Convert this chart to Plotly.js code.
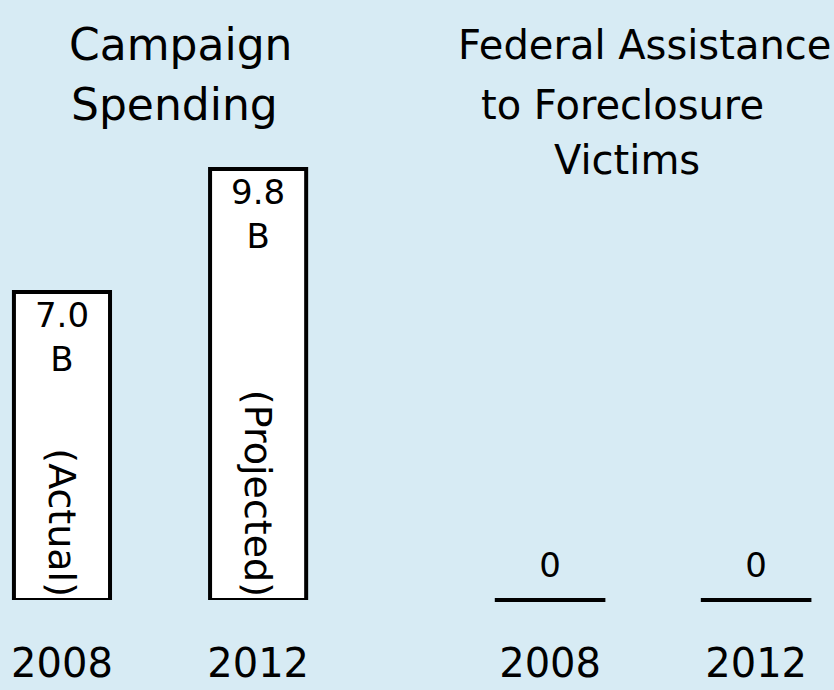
<!DOCTYPE html>
<html>
<head>
<meta charset="utf-8">
<script src="https://cdn.plot.ly/plotly-3.0.1.min.js"></script>
<style>html,body{margin:0;padding:0;background:#d7ebf4;}#chart{width:834px;height:690px;}</style>
</head>
<body>
<div id="chart"></div>
<script>
// ---- data ----
var years = ['2008', '2012'];
var campaignSpending = [7.0, 9.8];          // billions of dollars
var campaignValueLabels = ['7.0<br>B', '9.8<br>B'];
var campaignNotes = ['(Actual)', '(Projected)'];
var foreclosureAid = [0, 0];
var foreclosureLabels = ['0', '0'];
var campaignTitleLines = ['Campaign', 'Spending'];
var foreclosureTitleLines = ['Federal Assistance', 'to Foreclosure', 'Victims'];

var FONT = 'DejaVu Sans';
var BG = '#d7ebf4';

var traces = [
  {
    type: 'bar', x: years, y: campaignSpending, xaxis: 'x', yaxis: 'y',
    width: 0.49,
    marker: {color: '#ffffff', line: {color: '#000000', width: 4}},
    text: campaignValueLabels, textposition: 'inside', insidetextanchor: 'end',
    textangle: 0, constraintext: 'none',
    textfont: {family: FONT, size: 34, color: '#000000'},
    hoverinfo: 'skip', showlegend: false
  },
  {
    type: 'bar', x: years, y: campaignSpending, xaxis: 'x', yaxis: 'y',
    width: 0.49,
    marker: {color: 'rgba(0,0,0,0)', line: {width: 0}},
    text: campaignNotes, textposition: 'inside', insidetextanchor: 'start',
    textangle: 90, constraintext: 'none',
    textfont: {family: FONT, size: 38, color: '#000000'},
    hoverinfo: 'skip', showlegend: false
  },
  {
    type: 'scatter', mode: 'markers', x: years, y: foreclosureAid, xaxis: 'x2', yaxis: 'y',
    marker: {symbol: 'line-ew-open', size: 79, color: '#000000', line: {color: '#000000', width: 4}},
    hoverinfo: 'skip', showlegend: false, cliponaxis: false
  },
  {
    type: 'scatter', mode: 'markers+text', x: years, y: foreclosureAid, xaxis: 'x2', yaxis: 'y',
    marker: {size: 22, color: 'rgba(0,0,0,0)'},
    text: foreclosureLabels, textposition: 'top center',
    textfont: {family: FONT, size: 34, color: '#000000'},
    hoverinfo: 'skip', showlegend: false, cliponaxis: false
  }
];

function titleLine(txt, x, y, size) {
  return {text: txt, xref: 'paper', yref: 'paper', x: x, y: y,
    xanchor: 'center', yanchor: 'top', showarrow: false,
    font: {family: FONT, size: size, color: '#000000'}};
}

var layout = {
  width: 834, height: 690,
  margin: {l: 0, r: 0, t: 0, b: 90},
  paper_bgcolor: BG, plot_bgcolor: BG,
  barmode: 'overlay',
  showlegend: false,
  font: {family: FONT, color: '#000000'},
  xaxis: {
    domain: [0, 0.48], type: 'category', range: [-0.316, 1.725],
    showgrid: false, zeroline: false, showline: false, ticks: '',
    ticklabelstandoff: 36,
    tickfont: {family: FONT, size: 40, color: '#000000'}, fixedrange: true
  },
  xaxis2: {
    domain: [0.52, 1], type: 'category', range: [-0.565, 1.378], anchor: 'y',
    showgrid: false, zeroline: false, showline: false, ticks: '',
    ticklabelstandoff: 36,
    tickfont: {family: FONT, size: 40, color: '#000000'}, fixedrange: true
  },
  yaxis: {
    range: [0, 13.64], visible: false, showgrid: false, zeroline: false, fixedrange: true
  },
  annotations: [
    titleLine(campaignTitleLines[0], 0.217, 0.972, 44),
    titleLine(campaignTitleLines[1], 0.209, 0.872, 44),
    titleLine(foreclosureTitleLines[0], 0.773, 0.967, 40),
    titleLine(foreclosureTitleLines[1], 0.746, 0.867, 40),
    titleLine(foreclosureTitleLines[2], 0.752, 0.775, 40)
  ]
};

Plotly.newPlot('chart', traces, layout, {staticPlot: true, displayModeBar: false});
</script>
</body>
</html>
